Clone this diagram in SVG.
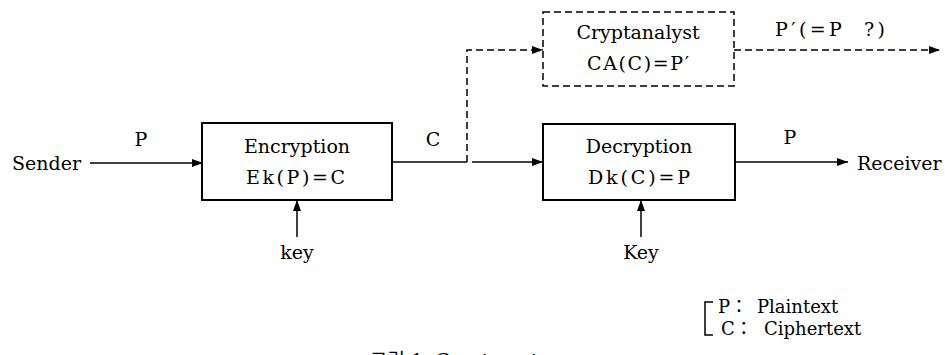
<svg xmlns="http://www.w3.org/2000/svg" width="945" height="355" viewBox="0 0 945 355">
<defs>
<style>
text{font-family:"DejaVu Serif","Liberation Serif","Noto Sans CJK KR",serif;font-size:19px;fill:#000}
.c{text-anchor:middle}
.box{fill:#fff;stroke:#000;stroke-width:2}
.dbox{fill:#fff;stroke:#000;stroke-width:1.5;stroke-dasharray:7 4}
.ln{fill:none;stroke:#000;stroke-width:1.5}
.dl{fill:none;stroke:#000;stroke-width:1.5;stroke-dasharray:7 4}
.leg{font-size:18px}
</style>
<marker id="ah" markerUnits="userSpaceOnUse" markerWidth="11" markerHeight="8" refX="11" refY="4" orient="auto">
<path d="M0,0 L11,4 L0,8 z" fill="#000"/>
</marker>
</defs>
<rect width="945" height="355" fill="#fff"/>
<g id="sender"><text x="12" y="170">Sender</text></g>
<g id="encryption">
<rect class="box" x="202" y="123" width="190" height="77"/>
<text class="c" x="297" y="153">Encryption</text>
<text x="246" y="184" textLength="99" lengthAdjust="spacing">Ek(P)=C</text>
</g>
<g id="key1"><text class="c" x="297" y="259">key</text></g>
<g id="decryption">
<rect class="box" x="543" y="124" width="192" height="76"/>
<text class="c" x="639" y="153">Decryption</text>
<text x="588" y="184" textLength="102" lengthAdjust="spacing">Dk(C)=P</text>
</g>
<g id="key2"><text class="c" x="641" y="259">Key</text></g>
<g id="cryptanalyst">
<rect class="dbox" x="543" y="12" width="191" height="74"/>
<text class="c" x="638" y="39">Cryptanalyst</text>
<text x="587" y="70" textLength="102" lengthAdjust="spacing">CA(C)=P′</text>
</g>
<g id="receiver"><text x="857" y="170">Receiver</text></g>
<g id="connectors">
<path class="ln" d="M90,163 H203" marker-end="url(#ah)"/>
<path class="ln" d="M297,237 V200" marker-end="url(#ah)"/>
<path class="ln" d="M392,162 H467"/>
<path class="ln" d="M472,162 H543" marker-end="url(#ah)"/>
<path class="dl" d="M467,162 V50 H543" marker-end="url(#ah)"/>
<path class="ln" d="M735,162 H848" marker-end="url(#ah)"/>
<path class="ln" d="M641,237 V200" marker-end="url(#ah)"/>
<path class="dl" d="M734,50 H940" marker-end="url(#ah)"/>
</g>
<g id="labels">
<text class="c" x="141" y="146">P</text>
<text class="c" x="433" y="146">C</text>
<text class="c" x="790" y="144">P</text>
<text x="775" y="36" textLength="110" lengthAdjust="spacing" xml:space="preserve">P′(=P  ?)</text>
</g>
<g id="legend">
<path class="ln" d="M713,302 H705 V335 H713"/>
<text class="leg" x="718" y="313">P：</text>
<text class="leg" x="757" y="313">Plaintext</text>
<text class="leg" x="721" y="335">C：</text>
<text class="leg" x="764" y="335">Ciphertext</text>
</g>
<g id="caption"><text x="370" y="367">그림 1. Cryptosystem</text></g>
</svg>
